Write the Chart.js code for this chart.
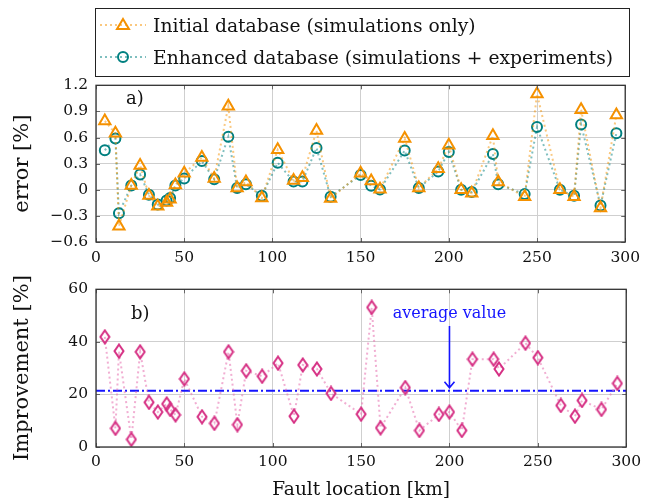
<!DOCTYPE html>
<html>
<head>
<meta charset="utf-8">
<script src="https://cdn.jsdelivr.net/npm/chart.js@4.4.0/dist/chart.umd.min.js"></script>
<style>
  body { margin: 0; background: #fff; width: 647px; height: 502px; position: relative; overflow: hidden; font-family: "DejaVu Serif", serif; }
  #legend { position: absolute; left: 95px; top: 8px; width: 535px; height: 69px; box-sizing: border-box; border: 1px solid #222; z-index: 2; }
  .row { position: absolute; left: 0; height: 30px; display: flex; align-items: center; font-size: 18.7px; color: #111; white-space: nowrap; }
  .row svg { margin-left: 4px; margin-right: 7px; }
  #wrap1 { position: absolute; left: 0; top: 68px; width: 647px; height: 202px; }
  #wrap2 { position: absolute; left: 0; top: 272px; width: 647px; height: 230px; }
</style>
</head>
<body>
<div id="legend">
  <div class="row" style="top:1px">
    <svg width="46" height="20"><line x1="0" y1="10" x2="46" y2="10" stroke="rgba(245,145,0,0.5)" stroke-width="2" stroke-dasharray="2,3"/><polygon points="23,4 29,14 17,14" fill="none" stroke="rgb(245,145,0)" stroke-width="2"/></svg>
    Initial database (simulations only)
  </div>
  <div class="row" style="top:33px">
    <svg width="46" height="20"><line x1="0" y1="10" x2="46" y2="10" stroke="rgba(0,128,128,0.5)" stroke-width="2" stroke-dasharray="2,3"/><circle cx="23" cy="10" r="5" fill="none" stroke="rgb(0,128,128)" stroke-width="2"/></svg>
    Enhanced database (simulations + experiments)
  </div>
</div>
<div id="wrap1"><canvas id="errChart"></canvas></div>
<div id="wrap2"><canvas id="impChart"></canvas></div>
<script>
// fault locations [km]
const km = [5, 11, 13, 20, 25, 30, 35, 40, 42, 45, 50, 60, 67, 75, 80, 85, 94, 103, 112, 117,
            125, 133, 150, 156, 161, 175, 183, 194, 200, 207, 213, 225, 228, 243, 250, 263, 271, 275, 286, 295];
// error [%]
const initialErr = [0.79, 0.65, -0.42, 0.05, 0.28, -0.065, -0.19, -0.145, -0.11, 0.056, 0.19, 0.37, 0.13, 0.96, 0.021, 0.09, -0.095, 0.46, 0.106, 0.137,
                    0.68, -0.1, 0.19, 0.1, 0.005, 0.59, 0.02, 0.24, 0.51, 0.0, -0.04, 0.62, 0.09, -0.08, 1.1, 0.0, -0.08, 0.92, -0.21, 0.86];
const enhancedErr = [0.454, 0.589, -0.27, 0.049, 0.176, -0.056, -0.17, -0.124, -0.094, 0.049, 0.13, 0.33, 0.12, 0.61, 0.019, 0.064, -0.07, 0.31, 0.094, 0.094,
                     0.48, -0.08, 0.17, 0.045, 0.004, 0.45, 0.019, 0.21, 0.435, 0.0, -0.026, 0.41, 0.064, -0.05, 0.72, 0.0, -0.07, 0.75, -0.18, 0.65];
// improvement [%]
const improvement = [41.9, 7.1, 36.5, 2.9, 36.2, 17, 13.3, 16.4, 14.3, 12.2, 25.9, 11.5, 9, 36.2, 8.5, 29, 26.9, 31.9, 11.7, 31.2,
                     29.7, 20.4, 12.5, 53.1, 7.3, 22.6, 6.3, 12.4, 13.3, 6.3, 33.4, 33.4, 29.7, 39.5, 34, 15.8, 11.7, 17.7, 14.3, 24.2];
const avgValue = 21.4;

const kmTicks = [0, 50, 100, 150, 200, 250, 300];
const errTicks = [-0.6, -0.3, 0, 0.3, 0.6, 0.9, 1.2];
const impTicks = [0, 20, 40, 60];

const FONT = '"DejaVu Serif", serif';
const ORANGE = 'rgb(245,145,0)';
const TEAL = 'rgb(0,128,128)';
const PINK = 'rgb(214,48,132)';
const BLUE = 'rgb(20,20,255)';

function fmt(v) {
  const s = String(Math.abs(Math.round(v * 10) / 10));
  return v < -1e-9 ? '\u2212' + s : s;
}

// narrow diamond marker like pgfplots
function diamond() {
  const c = document.createElement('canvas');
  c.width = 12; c.height = 16;
  const g = c.getContext('2d');
  g.strokeStyle = PINK; g.lineWidth = 2;
  g.beginPath();
  g.moveTo(6, 1.5); g.lineTo(10.5, 8); g.lineTo(6, 14.5); g.lineTo(1.5, 8); g.closePath();
  g.stroke();
  return c;
}

// frame with inward ticks, pgfplots style
const frame = {
  id: 'frame',
  afterDraw(chart) {
    const { ctx, chartArea: a, scales } = chart;
    ctx.save();
    ctx.strokeStyle = '#666';
    ctx.lineWidth = 1;
    ctx.beginPath();
    scales.x.ticks.forEach(t => {
      const px = Math.round(scales.x.getPixelForValue(t.value)) + 0.5;
      ctx.moveTo(px, a.bottom); ctx.lineTo(px, a.bottom - 4);
      ctx.moveTo(px, a.top); ctx.lineTo(px, a.top + 4);
    });
    scales.y.ticks.forEach(t => {
      const py = Math.round(scales.y.getPixelForValue(t.value)) + 0.5;
      ctx.moveTo(a.left, py); ctx.lineTo(a.left + 4, py);
      ctx.moveTo(a.right, py); ctx.lineTo(a.right - 4, py);
    });
    ctx.stroke();
    ctx.strokeStyle = '#333';
    ctx.lineWidth = 1.3;
    ctx.strokeRect(a.left, a.top, a.right - a.left, a.bottom - a.top);
    const lab = chart.options.plugins.frame;
    ctx.fillStyle = '#111';
    ctx.font = '18px ' + FONT;
    ctx.textAlign = 'center';
    ctx.textBaseline = 'middle';
    ctx.fillText(lab.text, scales.x.getPixelForValue(lab.x), scales.y.getPixelForValue(lab.y));
    ctx.restore();
  }
};

function xScale(withTitle) {
  return {
    type: 'linear', min: 0, max: 300,
    afterBuildTicks: s => { s.ticks = kmTicks.map(v => ({ value: v })); },
    afterFit: s => { s.height = withTitle ? 55 : 28; },
    grid: { color: '#cfcfcf', lineWidth: 1, drawTicks: false },
    border: { display: false },
    ticks: { color: '#111', font: { family: FONT, size: 15.5 }, padding: withTitle ? 6 : 7, maxRotation: 0 },
    title: { display: withTitle, text: 'Fault location [km]', color: '#111', font: { family: FONT, size: 18.5 }, padding: { top: 0, bottom: 1 } }
  };
}

function yScale(ticksArr, min, max, title) {
  return {
    type: 'linear', min: min, max: max,
    afterBuildTicks: s => { s.ticks = ticksArr.map(v => ({ value: v })); },
    afterFit: s => { s.width = 96; },
    grid: { color: '#cfcfcf', lineWidth: 1, drawTicks: false },
    border: { display: false },
    ticks: { color: '#111', font: { family: FONT, size: 15.5 }, padding: 8, callback: v => fmt(v) },
    title: { display: true, text: title, color: '#111', font: { family: FONT, size: 21 }, padding: { top: 10, bottom: 0 } }
  };
}

Chart.defaults.animation = false;

new Chart(document.getElementById('errChart'), {
  type: 'line',
  data: {
    datasets: [{
      label: 'Initial database (simulations only)',
      data: km.map((x, i) => ({ x: x, y: initialErr[i] })),
      borderColor: 'rgba(245,145,0,0.5)', borderWidth: 2, borderDash: [2, 3],
      pointStyle: 'triangle', pointRadius: 6.5, pointBorderWidth: 2,
      pointBorderColor: ORANGE, pointBackgroundColor: 'rgba(0,0,0,0)', tension: 0
    }, {
      label: 'Enhanced database (simulations + experiments)',
      data: km.map((x, i) => ({ x: x, y: enhancedErr[i] })),
      borderColor: 'rgba(0,128,128,0.5)', borderWidth: 2, borderDash: [2, 3],
      pointStyle: 'circle', pointRadius: 5, pointBorderWidth: 2,
      pointBorderColor: TEAL, pointBackgroundColor: 'rgba(0,0,0,0)', tension: 0
    }]
  },
  options: {
    responsive: true, maintainAspectRatio: false,
    layout: { padding: { top: 6, right: 17, bottom: 0, left: 0 } },
    plugins: { legend: { display: false }, tooltip: { enabled: false }, frame: { text: 'a)', x: 22, y: 1.04 } },
    scales: { x: xScale(false), y: yScale(errTicks, -0.6, 1.2, 'error [%]') }
  },
  plugins: [frame]
});

// "average value" label with arrow
const avgNote = {
  id: 'avgNote',
  afterDatasetsDraw(chart) {
    const { ctx, scales: { x, y } } = chart;
    const px = x.getPixelForValue(200);
    const yTop = y.getPixelForValue(46);
    const yTip = y.getPixelForValue(avgValue) - 3;
    ctx.save();
    ctx.strokeStyle = BLUE; ctx.fillStyle = BLUE; ctx.lineWidth = 1.6;
    ctx.beginPath();
    ctx.moveTo(px, yTop); ctx.lineTo(px, yTip);
    ctx.moveTo(px - 5, yTip - 6); ctx.lineTo(px, yTip); ctx.lineTo(px + 5, yTip - 6);
    ctx.stroke();
    ctx.font = '16px ' + FONT;
    ctx.textAlign = 'center'; ctx.textBaseline = 'middle';
    ctx.fillText('average value', px, y.getPixelForValue(50.6));
    ctx.restore();
  }
};

new Chart(document.getElementById('impChart'), {
  type: 'line',
  data: {
    datasets: [{
      label: 'average',
      data: [{ x: 0, y: avgValue }, { x: 300, y: avgValue }],
      borderColor: BLUE, borderWidth: 2, borderDash: [9, 3, 2, 3],
      pointRadius: 0, order: 2
    }, {
      label: 'Improvement',
      data: km.map((x, i) => ({ x: x, y: improvement[i] })),
      borderColor: 'rgba(232,120,180,0.6)', borderWidth: 2, borderDash: [2, 3],
      pointStyle: diamond(), pointRadius: 6, pointBorderWidth: 2,
      pointBorderColor: PINK, pointBackgroundColor: 'rgba(0,0,0,0)', tension: 0, order: 1
    }]
  },
  options: {
    responsive: true, maintainAspectRatio: false,
    layout: { padding: { top: 6, right: 17, bottom: 0, left: 0 } },
    plugins: { legend: { display: false }, tooltip: { enabled: false }, frame: { text: 'b)', x: 25, y: 50.6 } },
    scales: { x: xScale(true), y: yScale(impTicks, 0, 60, 'Improvement [%]') }
  },
  plugins: [frame, avgNote]
});
</script>
</body>
</html>
